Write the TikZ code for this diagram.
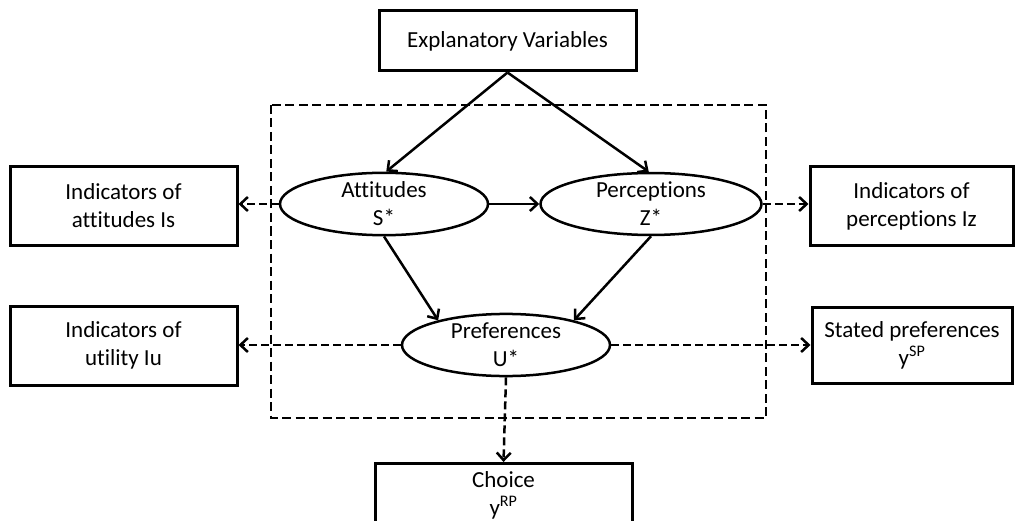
\documentclass[tikz,border=0pt]{standalone}
\usepackage{fontspec}
\setmainfont{Carlito}[Ligatures=NoCommon]
\usetikzlibrary{shapes.geometric,arrows.meta}
\begin{document}
\begin{tikzpicture}[x=1pt,y=-1pt,
  font=\fontsize{23}{28}\selectfont,
  box/.style={draw,line width=3pt,rectangle,align=center,inner sep=0pt},
  lat/.style={draw,line width=2.5pt,ellipse,align=center,inner sep=0pt},
  arr/.style={line width=2.5pt,-{Straight Barb[length=7.5pt,width=14pt,line width=2.5pt]}},
  darr/.style={arr,dash pattern=on 8pt off 4pt},
  frame/.style={line width=2.3pt,dash pattern=on 9pt off 4.5pt}]
\useasboundingbox (0,0) rectangle (1016,521);
\fill[white] (0,0) rectangle (1016,521);
\draw[frame] (271,105) rectangle (766,418);
\node[box,minimum width=257pt,minimum height=60pt] (ev) at (507.5,41) {Explanatory Variables};
\node[lat,minimum width=208pt,minimum height=58pt] (att) at (384,204) {Attitudes\\S*};
\node[lat,minimum width=221pt,minimum height=58pt] (per) at (651,204) {Perceptions\\Z*};
\node[lat,minimum width=208pt,minimum height=60pt] (pref) at (506,345) {Preferences\\U*};
\node[box,minimum width=227pt,minimum height=78pt] (is) at (123.5,206) {Indicators of\\attitudes Is};
\node[box,minimum width=203pt,minimum height=78pt] (iz) at (911.5,206) {Indicators of\\perceptions Iz};
\node[box,minimum width=227pt,minimum height=79pt] (iu) at (123.5,345.5) {Indicators of\\utility Iu};
\node[box,minimum width=200pt,minimum height=76pt] (sp) at (912,345) {Stated preferences\\y\textsuperscript{SP}};
\node[box,minimum width=257pt,minimum height=64pt,anchor=north] (ch) at (503.5,462) {Choice\\y\textsuperscript{RP}};
\draw[arr] (ev.south) -- (att.86);
\draw[arr] (ev.south) -- (per.94);
\draw[arr] (att.east) -- (per.west);
\draw[arr] (att.south) -- (pref.160);
\draw[arr] (per.south) -- (pref.20);
\draw[darr] (att.west) -- (att.west-|is.east);
\draw[darr] (per.east) -- (per.east-|iz.west);
\draw[darr] (pref.west) -- (pref.west-|iu.east);
\draw[darr] (pref.east) -- (pref.east-|sp.west);
\draw[darr] (pref.south) -- (ch.north);
\end{tikzpicture}
\end{document}
